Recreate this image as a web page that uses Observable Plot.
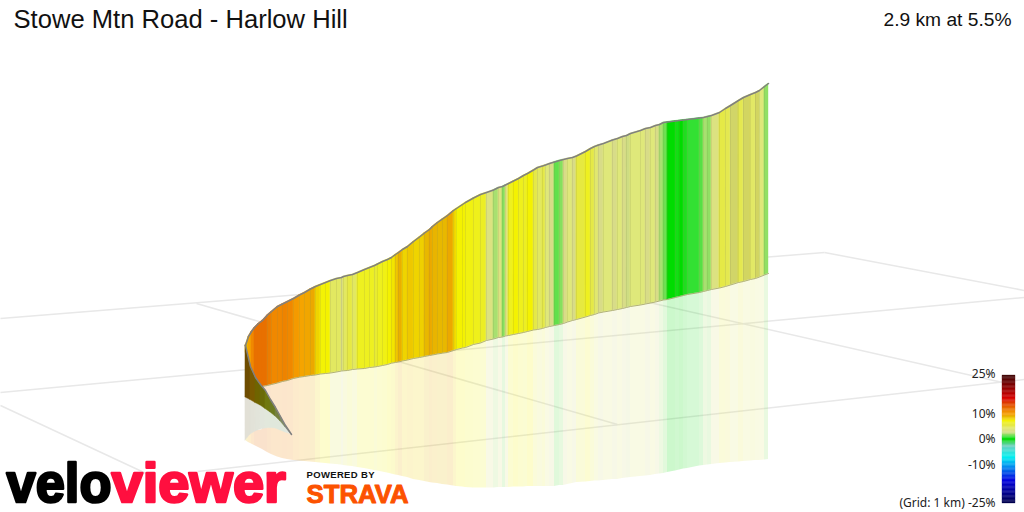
<!DOCTYPE html>
<html><head><meta charset="utf-8">
<style>html,body{margin:0;padding:0;background:#fff}svg{display:block}</style>
<script src="https://cdn.jsdelivr.net/npm/d3@7"></script>
<script src="https://cdn.jsdelivr.net/npm/@observablehq/plot@0.6"></script>
</head><body><div id="c"></div>
<script>
const edges=[245,248,251,254,258,262,262,267,271,277,282,287,293,299,304,310,315,320,325,330,336,341,343,347,352,357,364,369,374,377,382,387,391,395,398,402,407,413,419,424,429,432,437,442,447,453,456,462,465,473,480,486,493,498,502,505,508,513,518,523,527,533,537,542,545,549,554,559,563,567,572,576,585,590,594,598,603,612,617,622,626,630,640,645,650,655,659,663,667,675,679,683,687,699,703,707,711,719,725,730,738,743,750,755,759,764,768];
const topY=[345,336,331,327,323,320,320,314.5,311,306,303.5,301,298,294.5,292,288.5,286,284,282,280,278,277,276,275,274,272,269,267,265,263.5,261,259,257,254,252,249,246,241,236.5,232.5,229,226,222,218.5,215,210,208,204,202,197.5,194,192,189.5,187,186,184.5,183,180.5,178,175,173,169.5,167,165.5,164.5,163,161.5,160,159,158,157,155.5,151,148,146,144.5,143,139.5,138,136,135,133,130,128,127,125,124,122,121.5,120.5,120,119.5,119,117.5,117,116,115,112,108,105,100,97,94,92,90,86,83];
const baseY=[352,362,368,375,381,386,386,385,384,382.5,381,380,378,376.7,376,375,374.5,373.5,373,372.5,371.5,370.5,370.3,370,369,368.5,368,367,366.5,366,365,364,362.7,362,361.5,360.5,359.5,358,357,356,355,354.5,353.5,352.7,352,350,349,347.5,347,344,342.5,340,338.5,337,336.5,335.5,335,334,333,332,331,329.5,329,328,327,326,325,324,323,321.5,320,319,316.5,315,314,312.5,311.5,310,309,308,307,306,304.5,303.5,302.5,301.5,300.5,299.5,299,297,296,295,294,292,291,290,289,287.5,286,284.5,282,281,279,278,276.5,274.5,273];
const reflBottomY=[440,442,443.5,445,447,449,449,452,454,456.5,458,459,460,460.5,461,461.5,462,462.5,463,463.5,464,464.5,465,465.5,466,467,468,469,470,470.5,471.5,472.5,473.5,474.5,475,476,477,479,480,481,482,482.5,483,484,484.5,485.5,486,486.5,487,487.5,487.5,487.5,487.5,487,487,487,487,486.5,486.5,486.5,486,486,486,486,486,486,486,485,485,484,483,482,481.5,481,480.5,480.5,480,479,479,478,477.5,477,476,475.5,475,474,473.5,473,472,470.5,469.5,468.5,468,465.5,465,464.5,464,463,462.5,462,461.5,461,460.5,460,460,459.5,459];
const innerCurveY=[440,434,431,430,430,429];
const grades=[8.8,9.6,11,12,12,12,12,11.5,11,11,11.2,11,10,9.6,9.4,9.2,8,7.2,7.3,4.6,4.6,3,4.6,5.4,4.6,6.7,6.7,6.7,5.8,6.7,6.9,7.3,7.6,8.3,9,8,8.3,8,8.1,8.8,9.2,8.9,8.8,8.8,9.2,8,7.3,7.3,7,6.8,6.5,3.5,2,3.5,1.7,3.5,6.7,7.3,6.8,6.5,7.3,5.3,4.6,5.3,4,3,1.4,1.7,3,4,3,5.5,6.7,5.3,4.3,3,4,3,4,3,2.8,4,4,3,4,3,2,1.5,0,0.4,0,0.6,1,1.3,2,1.8,3.5,5.3,5,4,5,4.2,4.5,4.2,4,1.8];

const turnX=[245,250,255,260,265,270,275,280,285,291];
const turnUpperY=[345,366,377,384,390,399,407,416,425,434];
const turnLowerY=[397,399.5,402.5,405,408.5,412,416,421,427,434];
const turnFloorY=[440,434,431,429,428,427.5,428,430,432,434];
const turnColors=["#6e4c00","#7a5a00","#6f6400","#6a6a08","#707810","#6c7a20","#758040","#7c8a60","#848c78","#848c78"];
const turnPale=["#e2e0d6","#e2e2d8","#e2e4da","#e2e6dc","#e2e8dc","#e0e8dc","#e0e8dc","#e0e8dc","#e2e8e0","#e2e8e0"];

const gradeStops=[-25,-16,-10,-7,-2.5,0,1,2,3,4,5,6,6.7,7.3,7.8,8.3,8.8,9.2,9.6,10,11,12,14,16,21,25];
const gradeColors=["#00004a","#0000e0","#00a0f0","#00f0f0","#70d0c0","#00dc00","#33e033","#a8e070","#d8dc88","#dfe87a","#e4e850","#e8ea30","#eef020","#f4f200","#f0dc00","#eec800","#e8b800","#eca800","#f5a400","#f49a00","#f08800","#e87000","#e04000","#d80000","#800000","#400808"];

const gridX1=[0,0,197,196,824,640,0];
const gridY1=[318,392,471,303,252,300,405];
const gridX2=[824,1024,1024,617,1024,1002,150];
const gridY2=[252,297,379,424,290,382,475];

const legendTicks=[25,10,0,-10,-25];
const legendLabels=["25%","10%","0%","-10%","(Grid: 1 km) -25%"];
const legendSteps=d3.range(-25,25,0.5);
const legendPx=g=>439-g*2.56;

const rows=edges.map((x,i)=>({x,top:topY[i],base:baseY[i],bottom:reflBottomY[i],upper:i<innerCurveY.length?innerCurveY[i]:baseY[i]}));
const slices=rows.slice(0,-1).flatMap((r,i)=>[{...r,id:i,g:grades[i],start:r.x},{...rows[i+1],id:i,g:grades[i],start:r.x}]);
const dull=slices.filter(d=>[730,743,755].includes(d.start));
const turnRows=turnX.map((x,i)=>({x,up:turnUpperY[i],low:turnLowerY[i],floor:turnFloorY[i]}));
const turn=turnRows.slice(0,-1).flatMap((r,i)=>[{...r,id:i,c:turnColors[i],p:turnPale[i]},{...turnRows[i+1],id:i,c:turnColors[i],p:turnPale[i]}]);
const grid=gridX1.map((x,i)=>({x1:x,y1:gridY1[i],x2:gridX2[i],y2:gridY2[i]}));
const F="Liberation Sans";

const chart=Plot.plot({
  width:1024,height:512,margin:0,
  style:{background:"#fff"},
  x:{axis:null,domain:[0,1024],range:[0,1024]},
  y:{axis:null,domain:[0,512],range:[0,512]},
  color:{type:"linear",domain:gradeStops,range:gradeColors,interpolate:"rgb",clamp:true},
  marks:[
    Plot.link(grid,{x1:"x1",y1:"y1",x2:"x2",y2:"y2",stroke:"#e8e8e8",strokeWidth:1.5}),
    Plot.area(slices,{x1:"x",y1:"upper",y2:"bottom",z:"id",fill:"g",fillOpacity:0.2}),
    Plot.area(turn,{x1:"x",y1:"low",y2:"floor",z:"id",fill:{value:"p",scale:null},stroke:{value:"p",scale:null},strokeWidth:0.4}),
    Plot.area(slices,{x1:"x",y1:"top",y2:"base",z:"id",fill:"g",stroke:"g",strokeWidth:0.4}),
    Plot.area(dull,{x1:"x",y1:"top",y2:"base",z:"id",fill:"#806000",fillOpacity:0.14}),
    Plot.ruleX(rows.slice(7,-1),{x:"x",y1:"top",y2:"base",stroke:"#8a8a50",strokeOpacity:0.22,strokeWidth:0.8}),
    Plot.line(rows.slice(6),{x:"x",y:"base",stroke:"#a0a060",strokeOpacity:0.8,strokeWidth:1}),
    Plot.area(turn,{x1:"x",y1:"up",y2:"low",z:"id",fill:{value:"c",scale:null},stroke:{value:"c",scale:null},strokeWidth:0.4}),
    Plot.line(rows,{x:"x",y:"top",stroke:"#808080",strokeWidth:1.5}),
    Plot.line(turnRows,{x:"x",y:"up",stroke:"#808080",strokeWidth:1.5}),
    Plot.rect(legendSteps,{x1:()=>1002,x2:()=>1015,y1:g=>legendPx(g+0.5),y2:g=>legendPx(g),fill:g=>g+0.25,stroke:g=>g+0.25,strokeWidth:0.3}),
    Plot.text(legendTicks,{x:()=>995,y:g=>legendPx(g)+(g===25?-1:0),text:(g,i)=>legendLabels[i],textAnchor:"end",fontFamily:"Noto Sans",fontSize:12,fill:"#222"}),
    Plot.text(["Stowe Mtn Road - Harlow Hill"],{x:()=>13,y:()=>19,text:d=>d,textAnchor:"start",fontFamily:F,fontSize:25.6,fill:"#111"}),
    Plot.text(["2.9 km at 5.5%"],{x:()=>1011,y:()=>19,text:d=>d,textAnchor:"end",fontFamily:F,fontSize:19.2,fill:"#111"}),
    Plot.text(["viewer"],{x:()=>111,y:()=>484,text:d=>d,textAnchor:"start",fontFamily:F,fontWeight:"bold",fontSize:56,fill:"#ff0f3f",stroke:"#ff0f3f",strokeWidth:2.6}),
    Plot.text(["velo"],{x:()=>6,y:()=>484,text:d=>d,textAnchor:"start",fontFamily:F,fontWeight:"bold",fontSize:56,fill:"#000",stroke:"#000",strokeWidth:2.6}),
    Plot.text(["POWERED BY"],{x:()=>306,y:()=>474,text:d=>d,textAnchor:"start",fontFamily:F,fontWeight:"bold",fontSize:9.5,fill:"#111"}),
    Plot.text(["STRAVA"],{x:()=>306,y:()=>494,text:d=>d,textAnchor:"start",fontFamily:F,fontWeight:"bold",fontSize:26,fill:"#fc5200",stroke:"#fc5200",strokeWidth:1})
  ]
});
const logoWidths={velo:105,"POWERED BY":68,"STRAVA":102};
chart.querySelectorAll("text").forEach(t=>{
  const w=logoWidths[t.textContent];
  if(w){t.setAttribute("textLength",w);t.setAttribute("lengthAdjust",t.textContent==="POWERED BY"?"spacing":"spacingAndGlyphs");}
});
document.getElementById("c").appendChild(chart);
</script></body></html>
